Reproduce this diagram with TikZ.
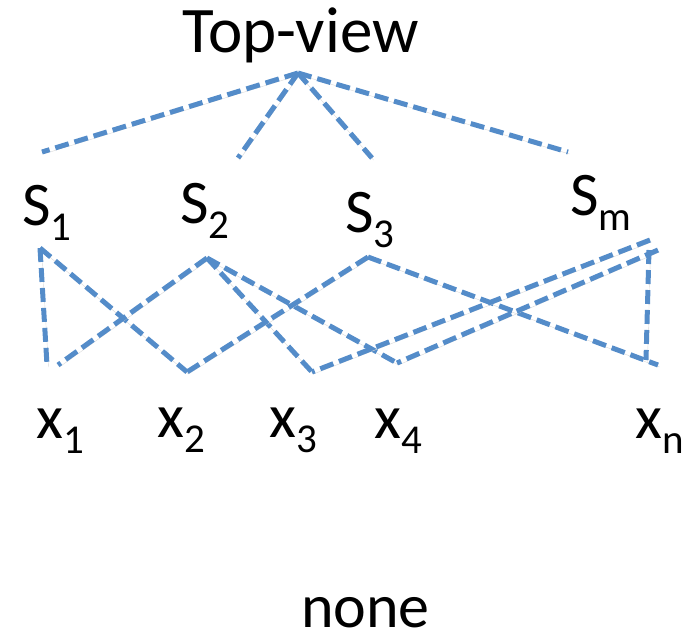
\documentclass[tikz,border=0pt]{standalone}
\usepackage{fontspec}
\setmainfont{Carlito}
\usepackage{tikz}
\usetikzlibrary{calc}
\definecolor{linkBlue}{RGB}{84, 140, 201}
\newcommand{\sublab}[2]{#1\raisebox{-15pt}{\fontsize{41}{41}\selectfont #2}}

\begin{document}
\begin{tikzpicture}[
      x=1pt, y=-1pt,
      lab/.style  = {anchor=base west, inner sep=0pt,
                     font=\fontsize{62}{74}\selectfont},
      link/.style = {linkBlue, line width=5pt,
                     dash pattern=on 14pt off 6pt,
                     preaction={draw=black!15, transform canvas={shift={(1.5pt,-2pt)}}}},
    ]
    \useasboundingbox (0,0) rectangle (691,641);
    %% ── Texte ──────────────────────────────────────────────────
    \node (top)  [lab, font=\fontsize{65}{78}\selectfont] at (182,52) {Top-view};
    \node (s1)   [lab] at (22,225)  {\sublab{S}{1}};
    \node (s2)   [lab] at (180,223) {\sublab{S}{2}};
    \node (s3)   [lab] at (345,232) {\sublab{S}{3}};
    \node (sm)   [lab] at (570,215) {\sublab{S}{m}};
    \node (x1)   [lab] at (36,438)  {\sublab{x}{1}};
    \node (x2)   [lab] at (157,437) {\sublab{x}{2}};
    \node (x3)   [lab] at (269,437) {\sublab{x}{3}};
    \node (x4)   [lab] at (374,438) {\sublab{x}{4}};
    \node (xn)   [lab] at (635,438) {\sublab{x}{n}};
    \node (none) [lab] at (301,627) {none};
    %% ── Points ─────────────────────────────────────────────────
    \coordinate (apex) at (298,73);
    \coordinate (t1) at (42,152);
    \coordinate (t2) at (238,158);
    \coordinate (t3) at (372,158);
    \coordinate (tm) at (568,152);
    \coordinate (s1b) at (40,248);
    \coordinate (s2b) at (207,258);
    \coordinate (s3b) at (368,257);
    \coordinate (smb) at (650,240);
    \coordinate (smc) at (658,250);
    \coordinate (smv) at (649,250);
    \coordinate (x1a) at (47,365);
    \coordinate (x1b) at (58,365);
    \coordinate (x2t) at (187,372);
    \coordinate (x3t) at (312,372);
    \coordinate (x4t) at (397,363);
    \coordinate (xna) at (646,360);
    \coordinate (xnb) at (658,365);
    %% ── Liens du haut ──────────────────────────────────────────
    \draw[link] (apex) -- (t1);
    \draw[link] (apex) -- (t2);
    \draw[link] (apex) -- (t3);
    \draw[link] (apex) -- (tm);
    %% ── Liens du bas ───────────────────────────────────────────
    \draw[link] (s1b) -- (x1a);
    \draw[link] (s1b) -- (x2t);
    \draw[link] (s2b) -- (x1b);
    \draw[link] (s2b) -- (x3t);
    \draw[link] (s2b) -- (x4t);
    \draw[link] (s3b) -- (x2t);
    \draw[link] (s3b) -- (xnb);
    \draw[link] (smb) -- (x3t);
    \draw[link] (smc) -- (x4t);
    \draw[link] (smv) -- (xna);
  \end{tikzpicture}
\end{document}
